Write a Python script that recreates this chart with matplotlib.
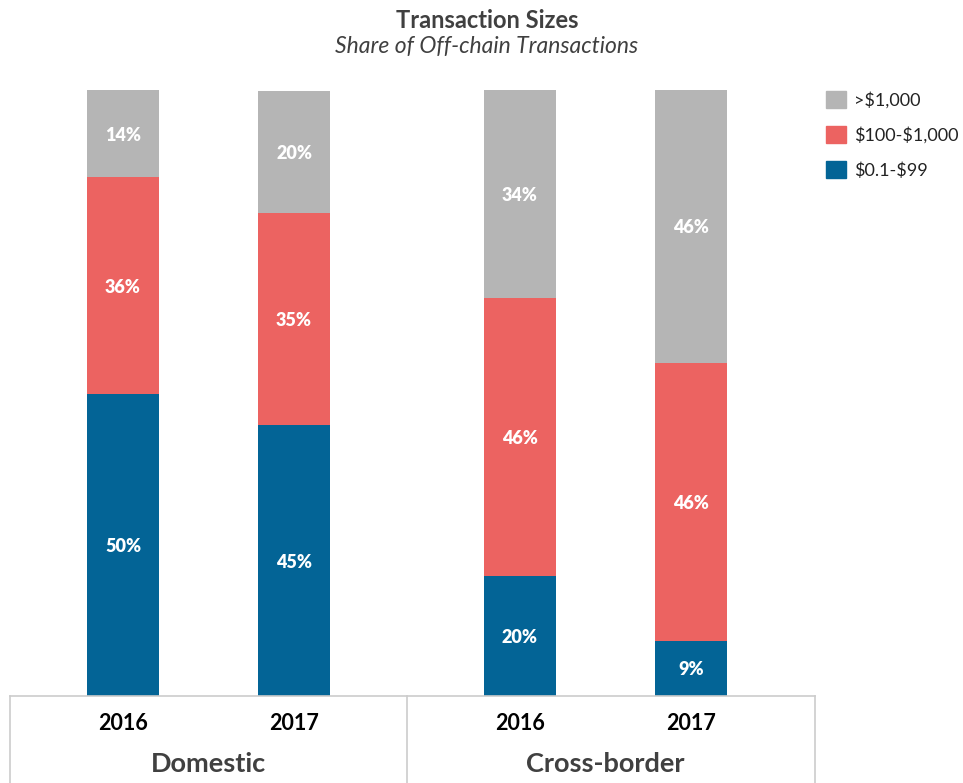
import matplotlib
matplotlib.use("Agg")
import matplotlib.pyplot as plt
from matplotlib.patches import Patch
import numpy as np

plt.rcParams["font.family"] = ["Lato", "DejaVu Sans"]

groups = ["Domestic", "Cross-border"]
years = ["2016", "2017"]
segments = [r"\$0.1-\$99", r"\$100-\$1,000", r">\$1,000"]
colors = ["#036496", "#ec6361", "#b5b5b5"]

# share per bar (Domestic 2016, Domestic 2017, Cross-border 2016, Cross-border 2017)
small = [49.8, 44.7, 19.8, 9.1]
medium = [35.8, 35.0, 45.9, 45.9]
large = [14.4, 20.1, 34.3, 45.0]
small_labels = ["50%", "45%", "20%", "9%"]
medium_labels = ["36%", "35%", "46%", "46%"]
large_labels = ["14%", "20%", "34%", "46%"]

values = [small, medium, large]
labels = [small_labels, medium_labels, large_labels]

gap = 0.32
xpos = np.array([gi * (len(years) + gap) + yi
                 for gi in range(len(groups)) for yi in range(len(years))])

fig = plt.figure(figsize=(9.63, 7.83), dpi=100)
ax = fig.add_axes([10 / 963, 87 / 783, 805 / 963, 606 / 783])

bottom = np.zeros(len(xpos))
for vals, labs, col in zip(values, labels, colors):
    vals = np.array(vals)
    bars = ax.bar(xpos, vals, width=0.42, bottom=bottom, color=col, linewidth=0)
    for b, lab in zip(bars, labs):
        ax.text(b.get_x() + b.get_width() / 2, b.get_y() + b.get_height() / 2, lab,
                ha="center", va="center_baseline", color="white", fontsize=13,
                fontweight="heavy")
    bottom += vals

ax.set_xlim(-0.661, 4.047)
ax.set_ylim(0, 100)
ax.axis("off")

# category box under the bars
box_color = "#cccccc"
trans = ax.get_xaxis_transform()
ax.plot([-0.661, 4.047], [0, 0], color=box_color, lw=1.2, transform=trans, clip_on=False)
divider = (xpos[1] + xpos[2]) / 2
for xv in [-0.661, divider, 4.047]:
    ax.plot([xv, xv], [0, -0.2], color=box_color, lw=1.2, transform=trans, clip_on=False)

for x, i in zip(xpos, range(len(xpos))):
    ax.text(x, -0.045, years[i % len(years)], transform=trans, ha="center", va="center",
            fontsize=15.5, fontweight="bold", color="black")
for gi, g in enumerate(groups):
    gx = xpos[gi * len(years):(gi + 1) * len(years)].mean()
    ax.text(gx, -0.112, g, transform=trans, ha="center", va="center",
            fontsize=19.5, fontweight="bold", color="#404040")

fig.text(487 / 963, 1 - 21 / 783, "Transaction Sizes", ha="center", va="center",
         fontsize=17, fontweight="bold", color="#404040")
fig.text(487 / 963, 1 - 47 / 783, "Share of Off-chain Transactions", ha="center",
         va="center", fontsize=16.5, fontstyle="italic", color="#404040")

handles = [Patch(color=c, label=s) for s, c in zip(segments, colors)][::-1]
fig.legend(handles=handles, loc="upper left", bbox_to_anchor=(826 / 963, 1 - 91 / 783),
           frameon=False, fontsize=13, handlelength=1.1, handleheight=1.1,
           handletextpad=0.45, labelspacing=0.95, borderpad=0, borderaxespad=0,
           labelcolor="#222222")

fig.savefig("out.png", dpi=100)
